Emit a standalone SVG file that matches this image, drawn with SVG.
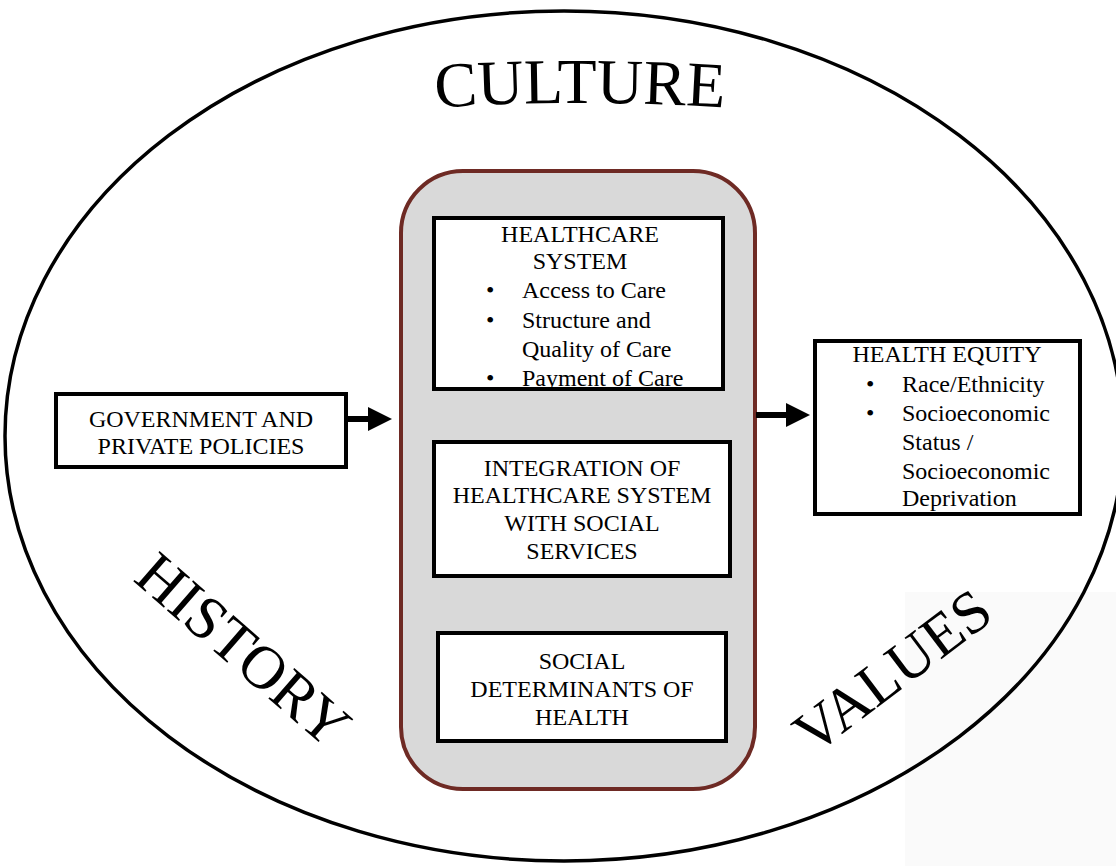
<svg xmlns="http://www.w3.org/2000/svg" width="1116" height="866" viewBox="0 0 1116 866">
<style>
.t{font-family:"Liberation Serif","Times New Roman",serif;fill:#000}
.lbl{font-size:24px}
.big{font-size:64px}
.box{fill:#fff;stroke:#000;stroke-width:4}
.conn{stroke:#000;stroke-width:6;fill:none}
</style>
<defs>
<marker id="ah" markerWidth="4" markerHeight="4" refX="1" refY="2" orient="auto" markerUnits="strokeWidth" viewBox="0 0 4 4">
<path d="M0,0 L4,2 L0,4 Z" fill="#000"/>
</marker>
<path id="arcC" d="M 400 110 Q 580 96 760 110"/>
</defs>
<rect x="0" y="0" width="1116" height="866" fill="#fff"/>
<rect x="905" y="592" width="211" height="274" fill="#fafafa"/>
<g id="context">
<ellipse cx="564" cy="436" rx="559" ry="425" fill="none" stroke="#000" stroke-width="3.5"/>
<text class="t big"><textPath href="#arcC" startOffset="50%" text-anchor="middle">CULTURE</textPath></text>
<text class="t" font-size="61" transform="translate(132,580) rotate(41)">HISTORY</text>
<text class="t" font-size="60" transform="translate(813,756) rotate(-37)">VALUES</text>
</g>
<g id="container">
<rect x="401" y="171" width="354" height="618" rx="62" ry="62" fill="#d9d9d9" stroke="#6e2a24" stroke-width="4"/>
</g>
<g id="healthcare">
<rect class="box" x="434" y="218" width="289" height="171"/>
<text class="t lbl" text-anchor="middle" x="580" y="242">HEALTHCARE</text>
<text class="t lbl" text-anchor="middle" x="580" y="269">SYSTEM</text>
<text class="t lbl" x="486" y="298">•</text><text class="t lbl" x="522" y="298">Access to Care</text>
<text class="t lbl" x="486" y="328">•</text><text class="t lbl" x="522" y="328">Structure and</text>
<text class="t lbl" x="522" y="357">Quality of Care</text>
<text class="t lbl" x="486" y="386">•</text><text class="t lbl" x="522" y="386">Payment of Care</text>
<rect x="434" y="387" width="289" height="2" fill="#000"/>
</g>
<g id="integration">
<rect class="box" x="434" y="442" width="296" height="134"/>
<text class="t lbl" text-anchor="middle" x="582" y="476">INTEGRATION OF</text>
<text class="t lbl" text-anchor="middle" x="582" y="503">HEALTHCARE SYSTEM</text>
<text class="t lbl" text-anchor="middle" x="582" y="531">WITH SOCIAL</text>
<text class="t lbl" text-anchor="middle" x="582" y="559">SERVICES</text>
</g>
<g id="social">
<rect class="box" x="438" y="633" width="288" height="108"/>
<text class="t lbl" text-anchor="middle" x="582" y="669">SOCIAL</text>
<text class="t lbl" text-anchor="middle" x="582" y="697">DETERMINANTS OF</text>
<text class="t lbl" text-anchor="middle" x="582" y="725">HEALTH</text>
</g>
<g id="policies">
<rect class="box" x="56" y="394" width="290" height="73"/>
<text class="t lbl" text-anchor="middle" x="201" y="427">GOVERNMENT AND</text>
<text class="t lbl" text-anchor="middle" x="201" y="454">PRIVATE POLICIES</text>
</g>
<g id="equity">
<rect class="box" x="815" y="341" width="265" height="173"/>
<text class="t lbl" text-anchor="middle" x="947" y="362">HEALTH EQUITY</text>
<text class="t lbl" x="866" y="392">•</text><text class="t lbl" x="902" y="392">Race/Ethnicity</text>
<text class="t lbl" x="866" y="421">•</text><text class="t lbl" x="902" y="421">Socioeconomic</text>
<text class="t lbl" x="902" y="450">Status /</text>
<text class="t lbl" x="902" y="479">Socioeconomic</text>
<text class="t lbl" x="902" y="506">Deprivation</text>
</g>
<g id="connectors">
<line class="conn" x1="347" y1="419" x2="374" y2="419" marker-end="url(#ah)"/>
<line class="conn" x1="756" y1="415" x2="792" y2="415" marker-end="url(#ah)"/>
</g>
</svg>
